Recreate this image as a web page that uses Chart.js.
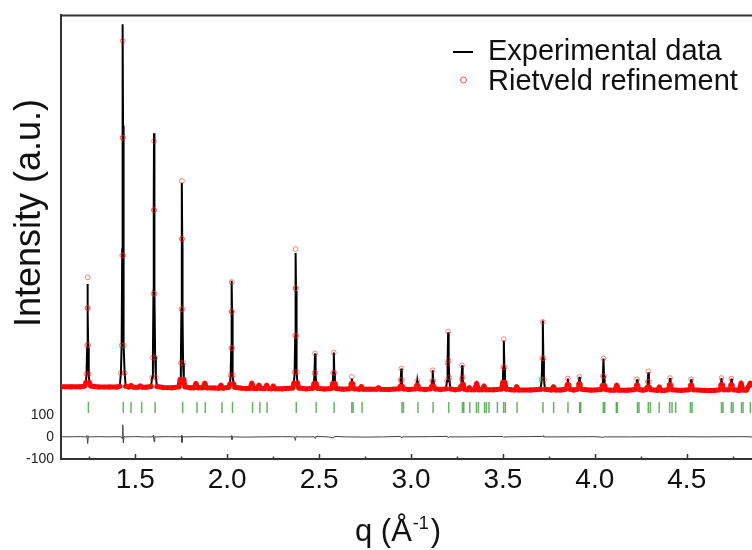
<!DOCTYPE html>
<html>
<head>
<meta charset="utf-8">
<script src="https://cdn.jsdelivr.net/npm/chart.js@4/dist/chart.umd.min.js"></script>
<style>
  body { margin: 0; background: #fff; }
  #c { display: block; }
</style>
</head>
<body>
<canvas id="c" width="752" height="550"></canvas>
<script>
// q positions (1/A) of the sampled pattern
const qValues = [
  1.096, 1.15, 1.20,
  1.225, 1.231, 1.235, 1.238, 1.2395, 1.241, 1.2425, 1.244, 1.247, 1.251, 1.257,
  1.30, 1.36, 1.40,
  1.416, 1.422, 1.426, 1.429, 1.4305, 1.432, 1.4335, 1.435, 1.438, 1.442, 1.448,
  1.465, 1.477, 1.49, 1.517, 1.527, 1.537, 1.56,
  1.586, 1.592, 1.596, 1.599, 1.6005, 1.602, 1.6035, 1.605, 1.608, 1.612, 1.618,
  1.65, 1.70,
  1.738, 1.744, 1.748, 1.751, 1.7525, 1.754, 1.7555, 1.757, 1.760, 1.764, 1.770,
  1.80, 1.820, 1.830, 1.840, 1.868, 1.878, 1.888, 1.93, 1.956, 1.966, 1.976,
  2.009, 2.015, 2.019, 2.022, 2.0235, 2.025, 2.0265, 2.028, 2.031, 2.035, 2.041,
  2.08, 2.124, 2.134, 2.144, 2.163, 2.173, 2.183, 2.205, 2.215, 2.225, 2.241, 2.251, 2.261, 2.30,
  2.357, 2.363, 2.367, 2.370, 2.3715, 2.373, 2.3745, 2.376, 2.379, 2.383, 2.389,
  2.43,
  2.466, 2.472, 2.475, 2.478, 2.481, 2.484, 2.490,
  2.53,
  2.568, 2.574, 2.577, 2.580, 2.583, 2.586, 2.592,
  2.63,
  2.666, 2.672, 2.675, 2.678, 2.681, 2.684, 2.690,
  2.720, 2.730, 2.740, 2.78, 2.813, 2.823, 2.833, 2.88,
  2.935, 2.941, 2.944, 2.947, 2.950, 2.953, 2.959,
  2.99,
  3.022, 3.028, 3.031, 3.034, 3.037, 3.040, 3.046,
  3.075,
  3.106, 3.112, 3.115, 3.118, 3.121, 3.124, 3.130,
  3.16,
  3.190, 3.196, 3.199, 3.202, 3.205, 3.208, 3.214,
  3.24,
  3.266, 3.272, 3.275, 3.278, 3.281, 3.284, 3.290,
  3.307, 3.317, 3.327, 3.347, 3.357, 3.367, 3.387, 3.397, 3.407, 3.45,
  3.493, 3.499, 3.502, 3.505, 3.508, 3.511, 3.517,
  3.545, 3.565, 3.575, 3.585, 3.65,
  3.705, 3.711, 3.714, 3.717, 3.720, 3.723, 3.729,
  3.765, 3.775, 3.785, 3.815,
  3.841, 3.847, 3.850, 3.853, 3.856, 3.859, 3.865,
  3.885,
  3.904, 3.910, 3.913, 3.916, 3.919, 3.922, 3.928,
  3.98,
  4.035, 4.041, 4.044, 4.047, 4.050, 4.053, 4.059,
  4.085, 4.109, 4.119, 4.129, 4.18,
  4.218, 4.224, 4.227, 4.230, 4.233, 4.236, 4.242,
  4.26,
  4.279, 4.285, 4.288, 4.291, 4.294, 4.297, 4.303,
  4.341, 4.351, 4.361, 4.38,
  4.397, 4.403, 4.406, 4.409, 4.412, 4.415, 4.421,
  4.47,
  4.512, 4.518, 4.521, 4.524, 4.527, 4.530, 4.536,
  4.60, 4.65,
  4.677, 4.683, 4.686, 4.689, 4.692, 4.695, 4.701,
  4.731, 4.737, 4.740, 4.743, 4.746, 4.749, 4.755,
  4.786, 4.796, 4.806, 4.825, 4.845, 4.858
];

// experimental intensity (a.u.)
const observed = [
  227, 226, 226,
  230, 245, 282, 403, 561, 691, 561, 403, 282, 245, 230,
  225, 225, 225,
  229, 291, 422, 848, 1406, 1865, 1406, 848, 422, 291, 229,
  225, 232, 224, 224, 230, 224, 224,
  228, 270, 362, 660, 1051, 1372, 1051, 660, 362, 270, 228,
  223, 222,
  226, 259, 333, 574, 889, 1149, 889, 574, 333, 259, 226,
  222, 222, 241, 222, 222, 242, 222, 221, 220, 233, 220,
  224, 239, 278, 405, 570, 706, 570, 405, 278, 239, 224,
  220, 219, 242, 219, 219, 233, 219, 219, 233, 219, 218, 229, 218, 217,
  221, 242, 291, 450, 659, 831, 659, 450, 291, 242, 221,
  217,
  220, 241, 289, 377, 289, 241, 220,
  216,
  219, 241, 290, 381, 290, 241, 219,
  215,
  218, 222, 237, 264, 237, 222, 218,
  215, 227, 215, 215, 215, 222, 215, 214,
  217, 228, 257, 309, 257, 228, 217,
  214,
  217, 220, 232, 253, 232, 220, 217,
  214,
  217, 227, 253, 301, 253, 227, 217,
  214,
  217, 253, 331, 473, 345, 268, 217,
  213,
  216, 230, 263, 323, 270, 238, 216,
  213, 222, 213, 213, 241, 213, 213, 229, 213, 213,
  216, 246, 313, 436, 313, 246, 216,
  213, 212, 226, 212, 212,
  215, 259, 353, 526, 353, 259, 215,
  212, 226, 212, 212,
  215, 220, 235, 264, 235, 220, 215,
  212,
  215, 221, 239, 271, 239, 221, 215,
  211,
  214, 232, 275, 354, 275, 232, 214,
  211, 211, 233, 211, 211,
  214, 218, 233, 260, 233, 218, 214,
  211,
  214, 223, 247, 292, 247, 223, 214,
  210, 225, 210, 210,
  213, 218, 235, 266, 235, 218, 213,
  210,
  213, 218, 233, 260, 233, 218, 213,
  210, 210,
  213, 218, 235, 266, 235, 218, 213,
  213, 218, 234, 263, 234, 218, 213,
  210, 242, 212, 211, 242, 235
];

// Rietveld calculated intensity (a.u.)
const calculated = [
  227, 226, 226,
  230, 245, 284, 414, 582, 721, 582, 414, 284, 245, 230,
  225, 225, 225,
  229, 288, 413, 820, 1352, 1790, 1352, 820, 413, 288, 229,
  225, 232, 224, 224, 230, 224, 224,
  228, 268, 358, 647, 1025, 1337, 1025, 647, 358, 268, 228,
  223, 222,
  226, 259, 334, 577, 895, 1157, 895, 577, 334, 259, 226,
  222, 222, 241, 222, 222, 242, 222, 221, 220, 233, 220,
  224, 239, 278, 402, 566, 700, 566, 402, 278, 239, 224,
  220, 219, 242, 219, 219, 233, 219, 219, 233, 219, 218, 229, 218, 217,
  221, 243, 293, 457, 672, 849, 672, 457, 293, 243, 221,
  217,
  220, 241, 289, 377, 289, 241, 220,
  216,
  219, 241, 290, 381, 290, 241, 219,
  215,
  218, 223, 240, 271, 240, 223, 218,
  215, 227, 215, 215, 215, 222, 215, 214,
  217, 228, 257, 309, 257, 228, 217,
  214,
  217, 220, 232, 253, 232, 220, 217,
  214,
  217, 227, 253, 301, 253, 227, 217,
  214,
  217, 253, 333, 476, 345, 268, 217,
  213,
  216, 230, 263, 323, 270, 238, 216,
  213, 222, 213, 213, 241, 213, 213, 229, 213, 213,
  216, 246, 315, 441, 315, 246, 216,
  213, 212, 226, 212, 212,
  215, 259, 355, 520, 355, 259, 215,
  212, 226, 212, 212,
  215, 220, 235, 264, 235, 220, 215,
  212,
  215, 221, 239, 271, 239, 221, 215,
  211,
  214, 232, 275, 354, 275, 232, 214,
  211, 211, 233, 211, 211,
  214, 218, 233, 260, 233, 218, 214,
  211,
  214, 224, 249, 296, 249, 224, 214,
  210, 225, 210, 210,
  213, 218, 235, 266, 235, 218, 213,
  210,
  213, 218, 233, 260, 233, 218, 213,
  210, 210,
  213, 218, 235, 266, 235, 218, 213,
  213, 218, 234, 263, 234, 218, 213,
  210, 242, 212, 211, 242, 235
];

// difference curve (obs - calc)
const diffQ = [
  1.096, 1.20, 1.232, 1.237, 1.241, 1.245, 1.25, 1.30, 1.35, 1.40,
  1.425, 1.429, 1.432, 1.435, 1.439, 1.445, 1.50, 1.55,
  1.595, 1.599, 1.602, 1.606, 1.61, 1.68,
  1.745, 1.751, 1.754, 1.758, 1.765, 1.85, 1.95,
  2.018, 2.022, 2.026, 2.03, 2.10, 2.20, 2.30,
  2.366, 2.371, 2.375, 2.38, 2.474, 2.478, 2.482, 2.55, 2.578, 2.582, 2.65,
  2.75, 2.85, 2.944, 2.948, 2.952, 3.10, 3.198, 3.202, 3.21, 3.30,
  3.50, 3.505, 3.51, 3.715, 3.719, 3.722, 3.80, 4.00, 4.045, 4.05,
  4.20, 4.40, 4.60, 4.80, 4.858
];
const diffV = [
  0, 1, 0, 6, -30, 4, 0, 1, 0, 1,
  0, -8, 55, -28, 2, 0, 1, 0,
  0, 8, -22, 3, 0, 1,
  0, 6, -25, 2, 0, 1, 0,
  0, 5, -12, 0, -1, 0, 1,
  0, -16, 4, 0, 0, -6, 2, 0, -5, 2, 0,
  -1, 0, 2, -5, 0, 1, 2, -4, 0, 0,
  2, -3, 0, 2, 5, 0, 0, 1, -2, 0,
  0, 1, 0, 1, 0
];

// Bragg reflection positions
const braggQ = [
  1.245, 1.435, 1.477, 1.535, 1.608, 1.758, 1.836, 1.881, 1.972, 2.029,
  2.138, 2.178, 2.217, 2.376, 2.484, 2.582, 2.678, 2.685, 2.734,
  2.951, 2.959, 3.038, 3.120, 3.205, 3.280, 3.287, 3.320, 3.356, 3.367,
  3.400, 3.410, 3.424, 3.470, 3.504, 3.513, 3.577, 3.718, 3.776, 3.854,
  3.918, 3.923, 4.046, 4.054, 4.117, 4.123, 4.232, 4.240, 4.291, 4.302,
  4.350, 4.407, 4.420, 4.440, 4.520, 4.529, 4.689, 4.697, 4.743, 4.752,
  4.798, 4.806, 4.846
];
const braggLevel = 133;

const majorTicks = [1.5, 2.0, 2.5, 3.0, 3.5, 4.0, 4.5];
const minorTicks = [1.25, 1.75, 2.25, 2.75, 3.25, 3.75, 4.25, 4.75];
const yTicks = [-100, 0, 100];

const FONT = '"Liberation Sans", Arial, sans-serif';

const toXY = (xs, ys) => xs.map((x, i) => ({ x: x, y: ys[i] }));

function isSteep(ctx) {
  const dx = Math.abs(ctx.p1.x - ctx.p0.x);
  const dy = Math.abs(ctx.p1.y - ctx.p0.y);
  return dy > 6 * dx + 1;
}

const decorations = {
  id: 'decorations',
  afterDraw(chart) {
    const { ctx, chartArea: a, scales } = chart;
    const xs = scales.x;
    ctx.save();
    // top frame line
    ctx.strokeStyle = '#333';
    ctx.lineWidth = 2;
    ctx.beginPath();
    ctx.moveTo(a.left - 1, a.top);
    ctx.lineTo(a.right, a.top);
    ctx.stroke();
    // inward tick marks on the q axis
    ctx.lineWidth = 1.5;
    majorTicks.forEach(v => {
      const px = Math.round(xs.getPixelForValue(v)) + 0.5;
      ctx.beginPath();
      ctx.moveTo(px, a.bottom);
      ctx.lineTo(px, a.bottom - 5);
      ctx.stroke();
    });
    minorTicks.forEach(v => {
      const px = Math.round(xs.getPixelForValue(v)) + 0.5;
      ctx.beginPath();
      ctx.moveTo(px, a.bottom);
      ctx.lineTo(px, a.bottom - 2.5);
      ctx.stroke();
    });

    // legend
    ctx.strokeStyle = '#000';
    ctx.lineWidth = 2;
    ctx.beginPath();
    ctx.moveTo(453, 52);
    ctx.lineTo(473, 52);
    ctx.stroke();
    ctx.strokeStyle = 'rgba(255,0,0,0.7)';
    ctx.lineWidth = 1;
    ctx.beginPath();
    ctx.arc(463.5, 80, 3, 0, Math.PI * 2);
    ctx.stroke();
    ctx.fillStyle = '#111';
    ctx.font = '29px ' + FONT;
    ctx.textAlign = 'left';
    ctx.textBaseline = 'alphabetic';
    ctx.fillText('Experimental data', 488, 60);
    ctx.fillText('Rietveld refinement', 488, 90);

    // y axis title
    ctx.save();
    ctx.translate(40, 213);
    ctx.rotate(-Math.PI / 2);
    ctx.textAlign = 'center';
    ctx.font = '36px ' + FONT;
    ctx.fillText('Intensity (a.u.)', 0, 0);
    ctx.restore();

    // x axis title with superscript
    let x = 355;
    const base = 541;
    ctx.font = '31px ' + FONT;
    ctx.fillText('q (\u00C5', x, base);
    x += ctx.measureText('q (\u00C5').width + 1;
    ctx.font = '18px ' + FONT;
    ctx.fillText('-1', x, base - 12);
    x += ctx.measureText('-1').width + 2;
    ctx.font = '31px ' + FONT;
    ctx.fillText(')', x, base);
    ctx.restore();
  }
};

new Chart(document.getElementById('c'), {
  type: 'line',
  data: {
    datasets: [
      {
        label: 'Rietveld refinement',
        data: toXY(qValues, calculated),
        order: 1,
        borderColor: '#ff0000',
        borderWidth: 5,
        borderJoinStyle: 'round',
        borderCapStyle: 'round',
        segment: {
          borderColor: ctx => isSteep(ctx) ? 'rgba(255,0,0,0)' : '#ff0000'
        },
        pointRadius: 2.4,
        pointStyle: 'circle',
        pointBorderWidth: 1,
        pointBorderColor: 'rgba(255,30,30,0.55)',
        pointBackgroundColor: 'rgba(0,0,0,0)',
        tension: 0
      },
      {
        label: 'Experimental data',
        data: toXY(qValues, observed),
        order: 2,
        borderColor: '#000',
        borderWidth: 2,
        pointRadius: 0,
        tension: 0
      },
      {
        label: 'Difference',
        data: toXY(diffQ, diffV),
        order: 3,
        borderColor: '#444',
        borderWidth: 1,
        pointRadius: 0,
        tension: 0
      },
      {
        label: 'Bragg positions',
        data: braggQ.map(q => ({ x: q, y: braggLevel })),
        order: 4,
        showLine: false,
        pointStyle: 'line',
        rotation: 90,
        pointRadius: 5.5,
        pointBorderWidth: 1.5,
        pointBorderColor: 'rgba(60,160,60,0.8)',
        borderColor: 'rgba(60,160,60,0.8)'
      }
    ]
  },
  options: {
    responsive: false,
    animation: false,
    events: [],
    layout: { autoPadding: false, padding: { top: 14, right: 0, bottom: 0, left: 0 } },
    plugins: { legend: { display: false }, tooltip: { enabled: false } },
    scales: {
      x: {
        type: 'linear',
        min: 1.096,
        max: 4.855,
        afterFit: s => { s.height = 91; },
        afterBuildTicks: s => { s.ticks = majorTicks.map(v => ({ value: v })); },
        grid: { display: false, drawTicks: false, tickLength: 0 },
        border: { display: true, color: '#333', width: 2 },
        ticks: {
          padding: 4,
          color: '#111',
          font: { family: FONT, size: 28 },
          maxRotation: 0,
          callback: v => v.toFixed(1)
        }
      },
      y: {
        type: 'linear',
        min: -100,
        max: 1905,
        afterFit: s => { s.width = 61; },
        afterBuildTicks: s => { s.ticks = yTicks.map(v => ({ value: v })); },
        grid: { display: false, drawTicks: false, tickLength: 0 },
        border: { display: true, color: '#333', width: 2 },
        ticks: {
          padding: 7,
          color: '#222',
          font: { family: FONT, size: 14 },
          callback: v => String(v)
        }
      }
    }
  },
  plugins: [decorations]
});
</script>
</body>
</html>
